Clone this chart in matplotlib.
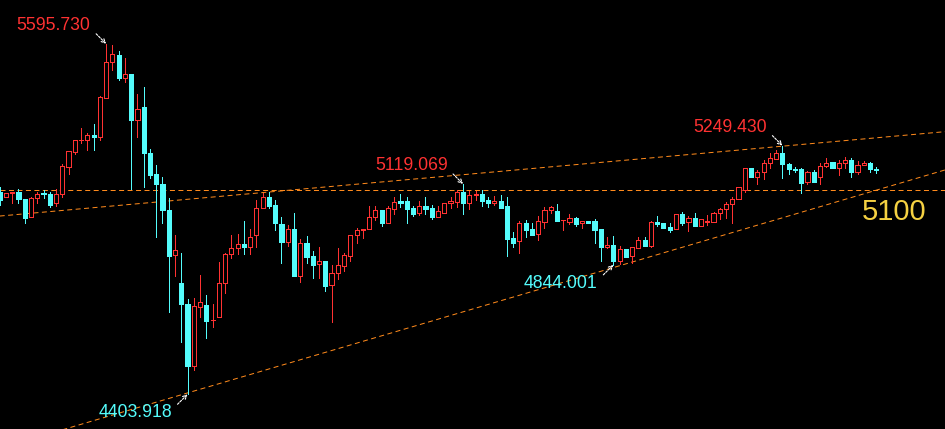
import matplotlib
matplotlib.use("Agg")
import matplotlib.pyplot as plt
from matplotlib.patches import Rectangle

# OHLC candles (left to right)
opens = [5093, 5075, 5088, 5093, 5067, 5008, 5071, 5087, 5085, 5054,
         5084, 5176, 5229, 5267, 5267, 5286, 5280, 5413, 5533, 5558,
         5478, 5494, 5335, 5380, 5224, 5152, 5119, 5031, 4877, 4782,
         4711, 4500, 4702, 4707, 4655, 4666, 4782, 4880, 4900, 4914,
         4906, 4944, 5037, 5074, 5048, 4983, 4923, 4966, 4806, 4917,
         4874, 4846, 4857, 4776, 4815, 4841, 4875, 4946, 4961, 4965,
         5006, 5031, 4988, 5034, 5061, 5061, 5037, 5019, 5045, 5037,
         5008, 5021, 5054, 5059, 5093, 5056, 5082, 5085, 5065, 5056,
         5061, 5045, 4935, 4926, 4988, 4966, 4948, 4991, 5029, 5027,
         4995, 4991, 5002, 4985, 4993, 4993, 4965, 4906, 4912, 4858,
         4897, 4874, 4902, 4929, 4909, 4991, 4988, 4974, 4965, 5017,
         4991, 5005, 4977, 4990, 4991, 5019, 5033, 5050, 5067, 5099,
         5173, 5142, 5159, 5190, 5204, 5226, 5187, 5170, 5169, 5125,
         5159, 5142, 5181, 5193, 5173, 5190, 5201, 5159, 5184, 5192,
         5170]
highs = [5110, 5089, 5093, 5102, 5067, 5075, 5093, 5099, 5091, 5102,
         5187, 5232, 5269, 5309, 5292, 5324, 5419, 5595.73, 5592, 5572,
         5547, 5494, 5426, 5448, 5238, 5184, 5142, 5071, 4946, 4884,
         4728, 4730, 4810, 4742, 4711, 4855, 4886, 4946, 4949, 4993,
         4966, 5065, 5090, 5093, 5065, 5008, 4980, 5022, 4931, 4942,
         4891, 4904, 4857, 4844, 4900, 4885, 4946, 4969, 4965, 5045,
         5045, 5031, 5045, 5076, 5085, 5076, 5045, 5061, 5074, 5048,
         5045, 5054, 5076, 5099, 5119.069, 5095, 5096, 5099, 5076, 5078,
         5082, 5076, 4957, 4994, 4997, 4988, 5010, 5040, 5045, 5051,
         4998, 5016, 5008, 4993, 4993, 5000, 4965, 4938, 4942, 4908,
         4897, 4906, 4938, 4940, 4993, 5010, 4988, 4985, 5017, 5023,
         5010, 5019, 5000, 5014, 5023, 5037, 5059, 5076, 5108, 5175,
         5173, 5167, 5199, 5224, 5233, 5249.43, 5192, 5178, 5175, 5164,
         5167, 5192, 5207, 5193, 5201, 5212, 5207, 5197, 5197, 5195,
         5178]
lows = [5048, 5075, 5055, 5056, 4988, 5008, 5054, 5071, 5042, 5045,
        5076, 5153, 5220, 5258, 5235, 5233, 5267, 5413, 5505, 5473,
        5467, 5101, 5280, 5110, 5141, 4940, 4988, 4685, 4806, 4583,
        4403.918, 4487, 4665, 4594, 4634, 4666, 4750, 4869, 4880, 4881,
        4881, 4906, 5037, 5039, 4963, 4852, 4908, 4806, 4787, 4850,
        4800, 4798, 4756, 4650, 4796, 4824, 4858, 4920, 4935, 4965,
        4997, 4976, 4988, 5017, 5042, 4985, 5010, 5014, 5016, 4999,
        5008, 5021, 5037, 5042, 5017, 5033, 5065, 5044, 5042, 5048,
        5039, 4874, 4906, 4886, 4938, 4946, 4929, 4970, 5019, 4993,
        4963, 4983, 4976, 4969, 4988, 4918, 4858, 4900, 4844.001, 4848,
        4872, 4852, 4902, 4909, 4904, 4977, 4971, 4957, 4965, 4980,
        4960, 4977, 4977, 4980, 4991, 4999, 5002, 4986, 5067, 5093,
        5142, 5118, 5136, 5173, 5204, 5141, 5153, 5159, 5090, 5118,
        5127, 5118, 5178, 5173, 5150, 5173, 5142, 5153, 5184, 5161,
        5156]
closes = [5065, 5089, 5093, 5067, 5005, 5071, 5084, 5084, 5048, 5084,
          5181, 5232, 5269, 5270, 5286, 5280, 5416, 5533, 5562, 5481,
          5494, 5335, 5374, 5224, 5150, 5118, 5029, 4874, 4895, 4710,
          4500, 4704, 4717, 4654, 4658, 4782, 4880, 4900, 4914, 4906,
          4938, 5037, 5074, 5045, 4986, 4923, 4966, 4806, 4917, 4872,
          4843, 4857, 4772, 4815, 4844, 4877, 4946, 4963, 4965, 5006,
          5029, 4988, 5037, 5059, 5056, 5034, 5017, 5045, 5034, 5008,
          5027, 5054, 5061, 5093, 5056, 5082, 5085, 5061, 5054, 5061,
          5039, 4932, 4920, 4988, 4963, 4946, 4993, 5031, 5040, 4993,
          4998, 5002, 4983, 4993, 4988, 4963, 4906, 4912, 4857, 4897,
          4872, 4904, 4929, 4909, 4989, 4983, 4971, 4963, 5017, 4988,
          5002, 4977, 5000, 4992, 5019, 5034, 5051, 5067, 5108, 5173,
          5142, 5161, 5192, 5207, 5226, 5186, 5169, 5168, 5124, 5159,
          5127, 5181, 5192, 5173, 5190, 5201, 5161, 5184, 5190, 5169,
          5168]

# marked extremes: (candle index, price, label, colour key)
marks = [(17, 5595.730, "5595.730", "up"),
         (74, 5119.069, "5119.069", "up"),
         (125, 5249.430, "5249.430", "up"),
         (98, 4844.001, "4844.001", "down"),
         (30, 4403.918, "4403.918", "down")]

level = 5097                      # horizontal support/resistance
upper_line = [(0, 5010), (151, 5297)]
lower_line = [(10, 4283), (151, 5167)]

RED = "#ff3232"
CYAN = "#54fcfc"
ORANGE = "#ff8a1c"
PX = 72 / 100  # one pixel in points

plt.rcParams["lines.scale_dashes"] = False
fig = plt.figure(figsize=(9.452, 4.292), dpi=100, facecolor="black")
ax = fig.add_axes([0, 0, 1, 1], facecolor="black")
ax.set_xlim(0.05, 151.0)
ax.set_ylim(4285.8, 5745.4)
ax.axis("off")

w = 0.66
for i, (o, h, l, c) in enumerate(zip(opens, highs, lows, closes)):
    up = c >= o
    col = RED if up else CYAN
    ax.vlines(i, l, h, color=col, lw=PX, zorder=2, antialiased=False)
    body = Rectangle((i - w / 2, min(o, c)), w, abs(c - o),
                     facecolor="black" if up else col, edgecolor=col,
                     lw=PX, zorder=3, antialiased=False)
    ax.add_patch(body)

dash = dict(color=ORANGE, lw=PX, dashes=(3.6, 2.5), zorder=1)
ax.axhline(level, **dash)
ax.plot([p[0] for p in upper_line], [p[1] for p in upper_line], **dash)
ax.plot([p[0] for p in lower_line], [p[1] for p in lower_line], **dash)

font = "Liberation Sans"
for idx, price, label, kind in marks:
    col = RED if kind == "up" else CYAN
    dy = 10 if kind == "up" else -10
    ax.annotate("", xy=(idx, price), xytext=(-10, dy), textcoords="offset pixels",
                arrowprops=dict(arrowstyle="->", color="white", lw=0.8,
                                linestyle=(0, (1.5, 1)), shrinkA=0, shrinkB=0,
                                mutation_scale=7), zorder=5)
    ax.annotate(label, xy=(idx, price), xytext=(-15.5, dy), textcoords="offset pixels",
                ha="right", va="bottom" if kind == "up" else "top",
                color=col, fontsize=12.7, family=font, zorder=5)

ax.text(137.7, 4997, "5100", color="#f5d142", fontsize=21, family=font,
        ha="left", va="baseline")

fig.savefig("out.png", dpi=100, facecolor="black")
